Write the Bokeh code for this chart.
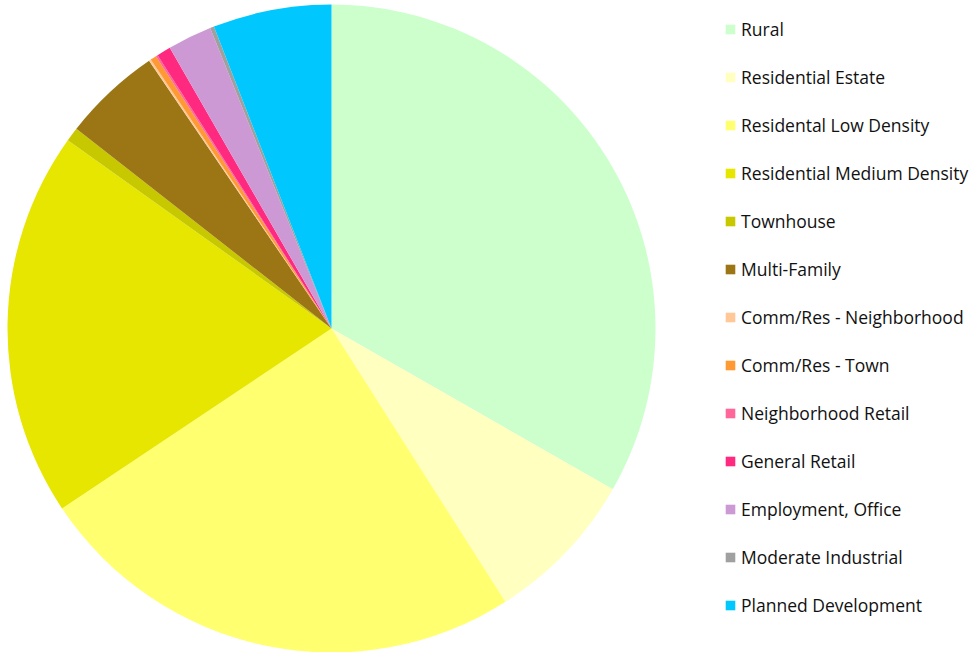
import math
from bokeh.plotting import figure
from bokeh.models import ColumnDataSource, Legend, LegendItem, Range1d
from bokeh.embed import file_html
from bokeh.resources import INLINE

categories = ["Rural", "Residential Estate", "Residental Low Density", "Residential Medium Density",
              "Townhouse", "Multi-Family", "Comm/Res - Neighborhood", "Comm/Res - Town",
              "Neighborhood Retail", "General Retail", "Employment, Office", "Moderate Industrial",
              "Planned Development"]
shares = [33.2, 7.7, 24.6, 19.2, 0.7, 4.9, 0.1, 0.3, 0.1, 0.7, 2.2, 0.2, 5.9]
colors = ["#CCFFCC", "#FFFFC0", "#FFFF70", "#E6E600", "#C8C800", "#9C7614", "#FFC896",
          "#FF9933", "#FF6699", "#FF2A80", "#CC99D4", "#A0A0A0", "#00C8FF"]

total = sum(shares)
starts, ends = [], []
acc = 0.0
for s in shares:
    starts.append(math.pi / 2 - 2 * math.pi * acc / total)
    acc += s
    ends.append(math.pi / 2 - 2 * math.pi * acc / total)

src = ColumnDataSource(dict(cat=categories, val=shares, color=colors, start=starts, end=ends))

W, H = 979, 652
p = figure(width=W, height=H, output_backend="svg", toolbar_location=None,
           x_range=Range1d(0, W), y_range=Range1d(0, H), min_border=0)
p.axis.visible = False
p.grid.visible = False
p.outline_line_color = None
p.background_fill_color = "white"

r = p.wedge(x=331, y=H - 328, radius=324, start_angle="start", end_angle="end",
            direction="clock", fill_color="color", line_color=None, source=src)

items = [LegendItem(label=c, renderers=[r], index=i) for i, c in enumerate(categories)]
leg = Legend(items=items, location=(724, 35), orientation="vertical",
             glyph_width=12, glyph_height=12, label_standoff=5, spacing=24,
             label_height=20, padding=0, margin=0,
             border_line_alpha=0, background_fill_alpha=0,
             label_text_font="Open Sans", label_text_font_size="17.5px",
             label_text_color="#111111")
p.add_layout(leg, "center")

open("out.html", "w").write(file_html(p, INLINE))
